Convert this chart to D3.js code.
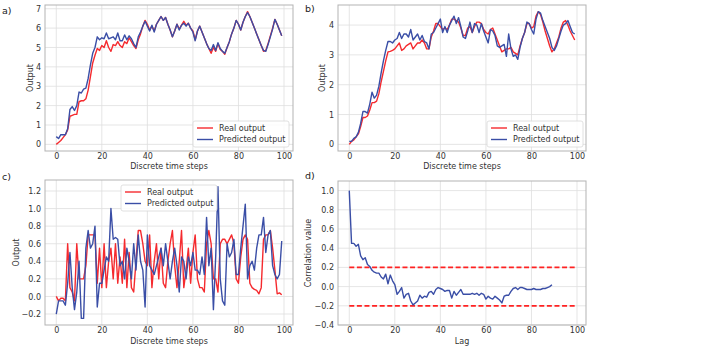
<!DOCTYPE html>
<html>
<head>
<meta charset="utf-8">
<script src="https://cdn.jsdelivr.net/npm/d3@7"></script>
<style>
body { margin: 0; background: #fff; }
text { font-family: "DejaVu Sans", sans-serif; }
</style>
</head>
<body>
<div class="d3"></div>
<script>
// x positions are just the sample index
var steps = d3.range(100);
var lags = d3.range(90);

var realA = [0.0,0.1,0.2,0.35,0.5,0.75,1.45,1.5,1.55,1.55,
	2.2,2.25,2.25,2.35,2.8,3.5,4.2,4.6,4.95,4.85,
	5.1,5.0,5.35,5.0,4.8,5.15,5.1,5.3,5.1,5.0,
	5.3,5.2,5.5,5.3,5.1,4.95,5.4,5.7,6.1,6.4,
	6.2,5.9,6.1,5.85,6.2,6.4,6.6,6.4,6.55,6.2,
	5.9,5.55,5.85,6.2,5.95,6.15,6.35,6.15,6.25,6.0,
	5.85,5.4,5.85,6.1,5.8,5.5,5.2,4.95,4.7,5.0,
	4.8,5.2,4.9,4.8,4.65,5.0,5.3,5.7,6.0,6.4,
	6.2,5.9,6.3,6.6,6.85,6.6,6.3,6.0,5.7,5.4,
	5.1,4.8,4.85,5.2,5.6,6.0,6.45,6.2,5.9,5.6];
var predA = [0.4,0.3,0.5,0.5,0.5,0.8,1.8,1.95,1.75,2.0,
	2.7,2.65,2.85,2.9,3.4,4.1,4.7,5.0,5.55,5.4,
	5.5,5.45,5.75,5.45,5.5,5.55,5.4,5.75,5.35,5.35,
	5.65,5.4,5.6,5.45,5.2,5.0,5.55,5.8,6.1,6.35,
	6.1,5.85,6.15,5.8,6.2,6.4,6.6,6.4,6.55,6.2,
	5.9,5.55,5.85,6.2,5.9,6.15,6.25,6.1,6.25,6.0,
	5.8,5.35,5.85,6.1,5.8,5.5,5.2,4.95,4.85,5.15,
	4.85,5.25,4.95,4.8,4.7,5.0,5.3,5.7,6.0,6.4,
	6.2,5.9,6.3,6.6,6.8,6.6,6.3,6.0,5.7,5.4,
	5.1,4.85,4.8,5.15,5.55,5.95,6.45,6.2,5.9,5.6];

var realB = [0.0,0.1,0.15,0.25,0.35,0.6,0.9,0.9,0.95,1.15,
	1.4,1.4,1.45,1.7,2.1,2.45,2.8,3.1,3.12,3.15,
	3.2,3.3,3.4,3.15,3.2,3.3,3.35,3.4,3.2,3.3,
	3.4,3.4,3.5,3.4,3.2,3.2,3.6,3.8,4.05,4.05,
	3.95,3.85,3.9,3.85,4.0,4.2,4.2,4.15,4.1,3.9,
	3.65,3.65,3.9,3.95,3.75,3.95,4.1,4.1,4.05,3.85,
	3.75,3.7,3.85,3.9,3.7,3.5,3.3,3.1,3.15,3.2,
	3.2,3.25,3.1,3.05,3.0,3.3,3.55,3.75,4.05,4.05,
	3.9,3.95,4.3,4.45,4.35,4.1,3.8,3.55,3.3,3.1,
	3.2,3.4,3.6,3.9,4.1,4.15,4.0,3.8,3.65,3.5];
var predB = [0.1,0.1,0.2,0.25,0.4,0.7,1.1,1.1,1.05,1.35,
	1.75,1.55,1.65,1.95,2.4,2.8,3.15,3.45,3.45,3.4,
	3.5,3.55,3.75,3.55,3.7,3.7,3.6,3.85,3.5,3.6,
	3.7,3.5,3.65,3.45,3.4,3.2,3.7,3.75,3.9,4.05,
	4.2,3.75,3.95,3.75,4.0,4.15,4.3,4.05,4.25,3.95,
	3.6,3.55,3.8,4.1,3.75,4.05,4.0,3.75,4.05,3.8,
	3.6,3.4,3.85,3.8,3.65,3.3,3.25,3.3,3.35,2.95,
	3.7,3.2,2.95,3.0,2.85,3.25,3.55,3.75,4.1,4.05,
	3.85,3.7,4.2,4.45,4.4,4.15,3.95,3.75,3.55,3.25,
	3.15,3.3,3.55,3.8,4.0,4.05,4.15,3.95,3.75,3.7];

var realC = [0.0,-0.05,-0.02,-0.02,-0.05,0.6,0.1,0.05,-0.05,0.6,
	0.2,0.2,0.2,0.35,0.7,0.7,0.7,0.7,0.15,0.55,
	0.1,0.6,0.1,0.4,0.55,0.2,0.6,0.15,0.45,0.15,
	0.65,0.1,0.5,0.1,0.05,0.4,0.75,0.75,0.6,0.4,
	0.35,0.7,0.1,0.4,0.6,0.2,0.55,0.15,0.1,0.4,
	0.6,0.75,0.35,0.1,0.4,0.75,0.1,0.3,0.55,0.15,
	0.5,0.7,0.2,0.1,0.1,0.05,0.6,0.75,0.6,0.2,
	0.2,0.05,0.6,0.65,0.65,0.6,0.65,0.7,0.6,0.2,
	0.15,0.45,0.65,0.7,0.65,0.15,0.1,0.08,0.07,0.03,
	0.1,0.65,0.7,0.7,0.75,0.55,0.3,0.03,0.04,0.02];
var predC = [-0.2,-0.05,-0.05,-0.05,-0.1,0.15,0.5,0.1,-0.15,0.05,
	0.4,-0.25,-0.25,0.55,0.75,0.55,0.6,0.8,-0.12,0.15,
	0.15,0.3,0.45,0.4,1.0,0.65,0.67,0.65,0.35,0.4,
	0.2,0.55,0.4,0.2,0.6,0.3,0.7,0.4,0.3,-0.12,
	0.7,0.35,0.3,0.25,0.35,0.45,0.55,0.35,0.6,0.4,
	0.2,0.4,0.55,0.35,0.05,0.45,0.4,0.2,0.45,0.35,
	0.5,0.3,0.3,0.25,0.45,0.25,0.9,0.35,0.55,-0.15,
	0.45,1.25,0.2,-0.05,-0.1,0.6,0.45,0.5,0.65,0.25,
	0.25,0.55,0.8,1.05,0.2,0.35,0.4,0.3,0.55,0.7,
	0.7,0.9,0.5,0.7,0.75,0.35,0.25,0.2,0.25,0.63];

var corrD = [1.0,0.45,0.45,0.42,0.44,0.32,0.28,0.3,0.23,0.21,
	0.17,0.15,0.14,0.14,0.1,0.08,0.13,0.03,0.12,0.06,
	0.02,-0.08,-0.05,-0.01,-0.12,-0.08,-0.07,-0.15,-0.19,-0.17,
	-0.15,-0.09,-0.12,-0.1,-0.11,-0.06,-0.05,-0.08,-0.03,-0.01,
	-0.02,-0.03,-0.05,-0.04,-0.04,-0.12,-0.05,-0.09,-0.06,-0.03,
	-0.08,-0.08,-0.08,-0.08,-0.07,-0.08,-0.07,-0.09,-0.07,-0.08,
	-0.13,-0.1,-0.12,-0.13,-0.1,-0.12,-0.14,-0.17,-0.1,-0.09,
	-0.09,-0.05,-0.02,-0.01,-0.03,-0.01,-0.01,-0.02,-0.03,-0.03,
	-0.03,-0.02,-0.03,-0.03,-0.03,-0.02,-0.02,-0.01,0.0,0.02];
var bandD = [0.2, -0.2];   // confidence lines
var bandLags = [0, 99];

var xTicks = [0, 20, 40, 60, 80, 100];
var yTicksA = [0, 1, 2, 3, 4, 5, 6, 7];
var yTicksB = [0, 1, 2, 3, 4];
var yTicksC = [-0.2, 0.0, 0.2, 0.4, 0.6, 0.8, 1.0, 1.2];
var yTicksD = [-0.4, -0.2, 0.0, 0.2, 0.4, 0.6, 0.8, 1.0];

var legendNames = ["Real output", "Predicted output"];
var red = "#f52a2e", blue = "#3a4ea6";

var w = 712, h = 352;
var svg = d3.select(".d3").append("svg")
	.attr("width", w)
	.attr("height", h);

// matplotlib style 5% padding
function pad(lo, hi) {
	var m = (hi - lo) * 0.05;
	return [lo - m, hi + m];
}

function drawPanel(p) {
	var g = svg.append("g");
	var xScale = d3.scaleLinear().domain(p.xDomain).range([p.x0, p.x1]);
	var yScale = d3.scaleLinear().domain(p.yDomain).range([p.y1, p.y0]);

	// grid
	g.selectAll(".gx").data(xTicks).enter().append("line")
		.attr("x1", d => xScale(d)).attr("x2", d => xScale(d))
		.attr("y1", p.y0).attr("y2", p.y1)
		.attr("stroke", "#dedede").attr("stroke-width", 0.8);
	g.selectAll(".gy").data(p.yTicks).enter().append("line")
		.attr("x1", p.x0).attr("x2", p.x1)
		.attr("y1", d => yScale(d)).attr("y2", d => yScale(d))
		.attr("stroke", "#dedede").attr("stroke-width", 0.8);

	// axes, no tick marks (grid only)
	var xAxis = d3.axisBottom(xScale).tickValues(xTicks).tickSize(0).tickPadding(2).tickFormat(d3.format("d"));
	var yAxis = d3.axisLeft(yScale).tickValues(p.yTicks).tickSize(0).tickPadding(4).tickFormat(p.fmt);
	var ax = g.append("g").attr("transform", "translate(0," + p.y1 + ")").call(xAxis);
	var ay = g.append("g").attr("transform", "translate(" + p.x0 + ",0)").call(yAxis);
	[ax, ay].forEach(a => {
		a.select(".domain").remove();
		a.selectAll(".tick line").remove();
		a.selectAll(".tick text").attr("fill", "#333").attr("font-size", "8px")
			.attr("font-family", "DejaVu Sans");
	});

	var clip = "clip" + p.name;
	g.append("clipPath").attr("id", clip).append("rect")
		.attr("x", p.x0).attr("y", p.y0).attr("width", p.x1 - p.x0).attr("height", p.y1 - p.y0);
	var plot = g.append("g").attr("clip-path", "url(#" + clip + ")");

	var line = d3.line().x(d => xScale(d[0])).y(d => yScale(d[1]));
	p.series.forEach(s => {
		plot.append("path")
			.datum(s.xs.map((x, i) => [x, s.ys[i]]))
			.attr("fill", "none")
			.attr("stroke", s.color)
			.attr("stroke-width", s.width || 1.4)
			.attr("stroke-dasharray", s.dash || null)
			.attr("stroke-linejoin", "round")
			.attr("d", line);
	});

	// frame
	g.append("rect")
		.attr("x", p.x0).attr("y", p.y0)
		.attr("width", p.x1 - p.x0).attr("height", p.y1 - p.y0)
		.attr("fill", "none").attr("stroke", "#b3b3b3").attr("stroke-width", 1);

	// labels
	g.append("text")
		.attr("x", (p.x0 + p.x1) / 2).attr("y", p.y1 + p.xLabelDy)
		.attr("text-anchor", "middle").attr("font-size", "8px").attr("fill", "#333")
		.text(p.xLabel);
	g.append("text")
		.attr("transform", "translate(" + p.yLabelX + "," + (p.y0 + p.y1) / 2 + ") rotate(-90)")
		.attr("text-anchor", "middle").attr("font-size", "8px").attr("fill", "#333")
		.text(p.yLabel);
	g.append("text")
		.attr("x", p.tagX).attr("y", p.tagY)
		.attr("font-size", "9.5px").attr("fill", "#222")
		.text(p.tag);

	if (p.legend) {
		var lg = g.append("g").attr("transform", "translate(" + p.legend[0] + "," + p.legend[1] + ")");
		lg.append("rect")
			.attr("width", 96).attr("height", 26).attr("rx", 2)
			.attr("fill", "#fff").attr("fill-opacity", 0.85)
			.attr("stroke", "#d8d8d8").attr("stroke-width", 0.8);
		var items = lg.selectAll(".item").data(legendNames).enter().append("g")
			.attr("transform", (d, i) => "translate(4," + (7 + i * 11.5) + ")");
		items.append("line")
			.attr("x1", 0).attr("x2", 16)
			.attr("stroke", (d, i) => i == 0 ? red : blue).attr("stroke-width", 1.4);
		items.append("text")
			.attr("x", 22).attr("dy", "0.35em")
			.attr("font-size", "8px").attr("fill", "#333")
			.text(d => d);
	}
}

var xDom = pad(0, 99);
var f1 = d3.format("d"), f2 = d3.format(".1f");

drawPanel({
	name: "a", tag: "a)", tagX: 2, tagY: 14,
	x0: 45, x1: 293, y0: 5, y1: 151,
	xDomain: xDom, yDomain: pad(d3.min(realA.concat(predA)), d3.max(realA.concat(predA))),
	yTicks: yTicksA, fmt: f1,
	series: [{xs: steps, ys: realA, color: red}, {xs: steps, ys: predA, color: blue}],
	xLabel: "Discrete time steps", xLabelDy: 18, yLabel: "Output", yLabelX: 33,
	legend: [193, 121]
});
drawPanel({
	name: "b", tag: "b)", tagX: 305, tagY: 12,
	x0: 338, x1: 586, y0: 5, y1: 151,
	xDomain: xDom, yDomain: pad(d3.min(realB.concat(predB)), d3.max(realB.concat(predB))),
	yTicks: yTicksB, fmt: f1,
	series: [{xs: steps, ys: realB, color: red}, {xs: steps, ys: predB, color: blue}],
	xLabel: "Discrete time steps", xLabelDy: 18, yLabel: "Output", yLabelX: 325,
	legend: [487, 121]
});
drawPanel({
	name: "c", tag: "c)", tagX: 2, tagY: 180,
	x0: 45, x1: 293, y0: 180, y1: 325,
	xDomain: xDom, yDomain: pad(d3.min(realC.concat(predC)), d3.max(realC.concat(predC))),
	yTicks: yTicksC, fmt: f2,
	series: [{xs: steps, ys: realC, color: red}, {xs: steps, ys: predC, color: blue}],
	xLabel: "Discrete time steps", xLabelDy: 19, yLabel: "Output", yLabelX: 19,
	legend: [121, 185]
});
drawPanel({
	name: "d", tag: "d)", tagX: 305, tagY: 179,
	x0: 338, x1: 586, y0: 181, y1: 325,
	xDomain: xDom, yDomain: [-0.4, 1.1],
	yTicks: yTicksD, fmt: f2,
	series: [
		{xs: bandLags, ys: [bandD[0], bandD[0]], color: "#ff2222", dash: "5,2.6", width: 1.7},
		{xs: bandLags, ys: [bandD[1], bandD[1]], color: "#ff2222", dash: "5,2.6", width: 1.7},
		{xs: lags, ys: corrD, color: blue}
	],
	xLabel: "Lag", xLabelDy: 19, yLabel: "Correlation value", yLabelX: 311
});
</script>
</body>
</html>
